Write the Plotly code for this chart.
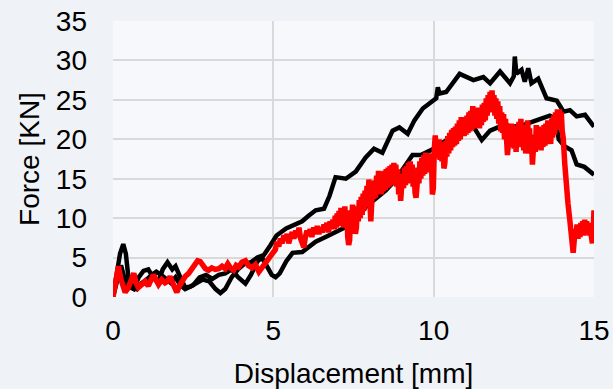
import plotly.graph_objects as go

# Force-displacement curves: two black specimens and one red specimen
black_a_x = [0.00, 0.10, 0.22, 0.32, 0.40, 0.48, 0.55, 0.65, 0.80, 0.95, 1.10, 1.25, 1.40, 1.55,
             1.70, 1.85, 1.95, 2.10, 2.25, 2.40, 2.60, 2.80, 3.00, 3.20, 3.35, 3.50, 3.70, 3.90,
             4.10, 4.30, 4.50, 4.70, 4.90, 5.10, 5.40, 5.70, 5.90, 6.10, 6.32, 6.58, 6.75, 6.94,
             7.10, 7.26, 7.57, 7.88, 8.14, 8.40, 8.72, 8.93, 9.19, 9.40, 9.66, 9.97, 10.08, 10.13,
             10.18, 10.39, 10.81, 11.24, 11.55, 11.76, 12.07, 12.38, 12.50, 12.53, 12.58, 12.74,
             12.84, 12.95, 13.05, 13.26, 13.52, 13.84, 14.05, 14.25, 14.46, 14.72, 14.93, 15.00]
black_a_y = [0.0, 2.5, 5.5, 6.7, 5.5, 2.5, 1.2, 1.0, 2.5, 3.3, 3.5, 2.5, 1.8, 3.5,
             4.4, 3.5, 3.9, 2.5, 1.2, 1.3, 1.8, 2.2, 2.0, 1.0, 0.5, 1.0, 2.5, 3.5,
             4.2, 4.4, 5.0, 5.3, 6.5, 7.8, 8.7, 9.2, 9.6, 10.3, 11.0, 11.2, 12.8, 15.2,
             15.1, 15.0, 15.9, 17.7, 18.8, 18.3, 21.1, 21.5, 20.7, 22.4, 23.9, 24.9, 25.2, 26.6,
             25.8, 26.0, 28.3, 27.5, 27.9, 27.1, 28.6, 27.1, 28.0, 30.5, 28.3, 28.8,
             27.3, 29.0, 27.1, 27.7, 25.2, 24.9, 23.5, 23.7, 22.9, 23.1, 22.0, 21.6]

black_b_x = [0.00, 0.10, 0.25, 0.35, 0.45, 0.60, 0.75, 0.90, 1.05, 1.20, 1.35, 1.50, 1.65, 1.80,
             1.95, 2.10, 2.25, 2.50, 2.70, 2.90, 3.10, 3.30, 3.50, 3.70, 3.90, 4.13, 4.30, 4.50,
             4.65, 4.80, 4.95, 5.07, 5.20, 5.40, 5.60, 5.90, 6.32, 6.63, 7.05, 7.47, 7.90, 8.20,
             8.50, 8.80, 9.08, 9.34, 9.60, 10.00, 10.40, 10.80, 11.24, 11.50, 11.76, 12.17, 12.50,
             12.79, 13.20, 13.62, 13.80, 13.90, 14.09, 14.30, 14.46, 14.70, 15.00]
black_b_y = [0.0, 1.5, 4.0, 2.5, 1.0, 1.5, 1.0, 1.8, 2.2, 2.8, 3.2, 2.8, 2.2, 1.8,
             2.5, 1.5, 1.0, 1.5, 2.5, 2.8, 2.3, 2.8, 3.0, 3.5, 2.5, 1.7, 2.8, 4.5,
             5.0, 4.0, 2.8, 2.5, 3.0, 4.5, 5.6, 5.7, 7.0, 7.6, 8.5, 9.3, 11.5, 12.5,
             13.5, 14.8, 16.5, 18.0, 18.0, 18.8, 19.9, 20.8, 21.6, 19.9, 21.1, 21.8, 21.6,
             21.8, 22.4, 23.0, 22.6, 20.0, 19.1, 18.6, 16.8, 16.5, 15.5]

# Red specimen as (displacement, force) readings
red_points = [
    (0.00, 0.0), (0.08, 2.0), (0.17, 3.9), (0.25, 2.2), (0.32, 1.0), (0.38, 0.6), (0.48, 1.2),
    (0.58, 2.4), (0.65, 3.0), (0.72, 1.8), (0.79, 1.2), (0.90, 1.6), (1.00, 2.0), (1.10, 1.4),
    (1.18, 2.2), (1.26, 2.8), (1.34, 2.2), (1.42, 1.6), (1.52, 2.2), (1.62, 1.8), (1.70, 2.0),
    (1.78, 2.6), (1.86, 1.8), (1.92, 1.0), (1.99, 0.6), (2.07, 1.4), (2.15, 2.1), (2.25, 2.6),
    (2.36, 3.0), (2.46, 3.6), (2.56, 4.2), (2.64, 4.6), (2.72, 4.5), (2.80, 4.0), (2.88, 3.6),
    (2.98, 3.4), (3.08, 3.7), (3.19, 3.5), (3.30, 3.6), (3.40, 3.9), (3.50, 3.6), (3.58, 4.2),
    (3.66, 3.7), (3.76, 3.4), (3.84, 4.0), (3.92, 3.8), (4.02, 4.4), (4.13, 4.6), (4.22, 4.0),
    (4.34, 3.7), (4.44, 4.1), (4.55, 3.2), (4.65, 3.8), (4.75, 4.3), (4.85, 4.8), (4.96, 5.5),
    (5.06, 6.0), (5.12, 7.0), (5.17, 6.4), (5.22, 7.4), (5.27, 6.8), (5.33, 7.8), (5.38, 7.2),
    (5.43, 8.0), (5.48, 6.8), (5.53, 7.6), (5.59, 8.2), (5.64, 7.4), (5.70, 8.4), (5.75, 7.6),
    (5.80, 8.8), (5.85, 7.4), (5.90, 7.0), (5.95, 6.3), (6.00, 7.6), (6.05, 8.4), (6.10, 7.8),
    (6.15, 8.6), (6.20, 7.6), (6.26, 8.8), (6.32, 8.0), (6.37, 9.0), (6.42, 8.0), (6.48, 8.8),
    (6.53, 8.2), (6.58, 9.2), (6.62, 8.4), (6.67, 9.4), (6.72, 8.2), (6.77, 9.6), (6.82, 8.6),
    (6.86, 9.8),
    (6.90, 8.6), (6.93, 10.3), (6.96, 8.8), (6.99, 10.6), (7.02, 9.0), (7.05, 10.9), (7.08, 9.0),
    (7.11, 11.3), (7.14, 9.2), (7.17, 11.2), (7.20, 8.8), (7.23, 11.5), (7.26, 9.0), (7.29, 11.0),
    (7.32, 7.6), (7.35, 6.6), (7.38, 7.2), (7.41, 10.9), (7.44, 9.2), (7.47, 11.7), (7.50, 9.4),
    (7.53, 11.3), (7.56, 8.0), (7.59, 8.8), (7.62, 11.5), (7.65, 9.6), (7.68, 12.3), (7.71, 10.0),
    (7.74, 12.7), (7.77, 10.4), (7.80, 13.1), (7.83, 11.0), (7.86, 13.5), (7.89, 11.4), (7.92, 14.1),
    (7.95, 11.8), (7.98, 14.9), (8.01, 12.2), (8.04, 9.6), (8.07, 12.0), (8.10, 14.6), (8.13, 12.4),
    (8.16, 14.8), (8.19, 12.6), (8.22, 15.4), (8.25, 13.0), (8.28, 16.0), (8.31, 13.4), (8.34, 15.6),
    (8.37, 13.0), (8.40, 15.8), (8.43, 13.4), (8.46, 16.0), (8.49, 13.6), (8.52, 16.2), (8.55, 13.8),
    (8.58, 16.4), (8.61, 14.0), (8.64, 16.6), (8.67, 14.2), (8.70, 16.8), (8.73, 14.4), (8.76, 17.0),
    (8.79, 14.4), (8.82, 16.8), (8.85, 14.0), (8.88, 16.2), (8.91, 13.0), (8.94, 14.8), (8.97, 12.2),
    (9.00, 13.4), (9.03, 15.6), (9.06, 13.8), (9.09, 16.4), (9.12, 14.2), (9.15, 16.6), (9.18, 14.4),
    (9.21, 17.0), (9.24, 14.6), (9.27, 17.2), (9.30, 14.6), (9.33, 16.8), (9.36, 14.0), (9.39, 16.2),
    (9.42, 13.2), (9.45, 12.6), (9.48, 14.0), (9.51, 16.4), (9.54, 14.4), (9.57, 17.2), (9.60, 15.0),
    (9.63, 17.6), (9.66, 15.4), (9.69, 18.0), (9.72, 15.6), (9.75, 18.3), (9.78, 15.8), (9.81, 18.0),
    (9.84, 16.0), (9.87, 18.2), (9.90, 15.8), (9.93, 17.4), (9.96, 13.0), (9.99, 13.8), (10.02, 18.8),
    (10.05, 20.5), (10.08, 18.0), (10.11, 20.0), (10.14, 17.6), (10.17, 20.0), (10.20, 17.4),
    (10.23, 19.6), (10.26, 17.2), (10.29, 19.4), (10.32, 16.3), (10.35, 17.0), (10.38, 19.8),
    (10.41, 17.8), (10.44, 20.4), (10.47, 18.2), (10.50, 20.8), (10.53, 18.6), (10.56, 21.2),
    (10.59, 19.0), (10.62, 21.4), (10.65, 19.2), (10.68, 21.6), (10.71, 19.4), (10.74, 22.0),
    (10.77, 19.8), (10.80, 22.4), (10.83, 20.0), (10.86, 22.8), (10.89, 20.4), (10.92, 22.6),
    (10.95, 20.4), (10.98, 22.8), (11.01, 20.6), (11.04, 23.0), (11.07, 20.8), (11.10, 23.4),
    (11.13, 21.0), (11.16, 23.6), (11.19, 21.2), (11.22, 24.2), (11.25, 21.6), (11.28, 23.8),
    (11.31, 21.4), (11.34, 24.0), (11.37, 21.6), (11.40, 23.6), (11.43, 21.4), (11.46, 24.0),
    (11.49, 21.8), (11.52, 24.4), (11.55, 22.2), (11.58, 24.6), (11.61, 22.4), (11.64, 25.2),
    (11.67, 23.0), (11.70, 25.6), (11.73, 23.4), (11.76, 26.0), (11.79, 24.0), (11.82, 26.2),
    (11.85, 23.8), (11.88, 25.6), (11.91, 23.0), (11.94, 25.2), (11.97, 22.6), (12.00, 24.8),
    (12.03, 22.0), (12.06, 24.2), (12.09, 21.0), (12.12, 23.4), (12.15, 20.8), (12.18, 23.2),
    (12.21, 20.0), (12.24, 22.6), (12.27, 19.0), (12.30, 18.0), (12.33, 19.4), (12.36, 21.6),
    (12.39, 19.2), (12.42, 22.0), (12.45, 19.0), (12.48, 21.6), (12.51, 18.8), (12.54, 21.4),
    (12.57, 18.4), (12.60, 21.8), (12.63, 19.2), (12.66, 22.2), (12.69, 19.4), (12.72, 22.6),
    (12.75, 19.0), (12.78, 21.8), (12.81, 18.6), (12.84, 21.4), (12.87, 18.2), (12.90, 21.0),
    (12.93, 22.4), (12.96, 19.6), (12.99, 21.4), (13.02, 18.2), (13.05, 19.8), (13.08, 16.8),
    (13.11, 18.0), (13.14, 20.6), (13.17, 18.4), (13.20, 21.8), (13.23, 19.0), (13.26, 21.6),
    (13.29, 18.8), (13.32, 21.2), (13.35, 18.6), (13.38, 21.4), (13.41, 19.0), (13.44, 21.8),
    (13.47, 19.2), (13.50, 22.0), (13.53, 19.4), (13.56, 22.4), (13.59, 19.8), (13.62, 22.0),
    (13.65, 19.4), (13.68, 22.6), (13.71, 20.2), (13.74, 23.0), (13.77, 20.6), (13.80, 23.4),
    (13.83, 21.2), (13.86, 23.8), (13.89, 21.8), (13.92, 23.8), (13.95, 22.0), (13.98, 23.4),
    (14.01, 21.0), (14.04, 20.2), (14.09, 16.8), (14.14, 13.5), (14.19, 11.8), (14.25, 9.6),
    (14.30, 7.4), (14.35, 5.6), (14.38, 7.0), (14.41, 8.6), (14.44, 7.6), (14.47, 9.2),
    (14.50, 7.4), (14.53, 8.8), (14.56, 7.6), (14.59, 9.4), (14.62, 8.0), (14.65, 9.6),
    (14.68, 7.8), (14.71, 9.8), (14.74, 8.4), (14.77, 9.6), (14.80, 8.0), (14.83, 9.4),
    (14.86, 7.8), (14.89, 9.4), (14.92, 7.6), (14.95, 6.8), (14.98, 9.0), (15.00, 11.0),
]
red_x = [p[0] for p in red_points]
red_y = [p[1] for p in red_points]

x_ticks = [0, 5, 10, 15]
y_ticks = [0, 5, 10, 15, 20, 25, 30, 35]

font_family = "Liberation Sans, Arial, sans-serif"

fig = go.Figure()
fig.add_trace(go.Scatter(x=black_a_x, y=black_a_y, mode="lines",
                         line=dict(color="#000000", width=4.5), showlegend=False))
fig.add_trace(go.Scatter(x=black_b_x, y=black_b_y, mode="lines",
                         line=dict(color="#000000", width=4.5), showlegend=False))
fig.add_trace(go.Scatter(x=red_x, y=red_y, mode="lines",
                         line=dict(color="#ff0000", width=5.5), showlegend=False))

fig.update_layout(
    width=613, height=389,
    margin=dict(l=113, r=19, t=21, b=92),
    paper_bgcolor="#eff3f7",
    plot_bgcolor="#f6f8fb",
    font=dict(family=font_family, size=28, color="#000000"),
)
fig.update_xaxes(
    range=[0, 15], tickvals=x_ticks, showgrid=True, gridcolor="#d9d9d9", gridwidth=1.5,
    zeroline=False, showline=False, ticks="", ticklabelstandoff=14, automargin=False,
    title=dict(text="Displacement [mm]", standoff=18, font=dict(size=28)),
)
fig.update_yaxes(
    range=[0, 35], tickvals=y_ticks, showgrid=True, gridcolor="#d9d9d9", gridwidth=1.5,
    zeroline=False, showline=False, ticks="", ticklabelstandoff=25, automargin=False,
    title=dict(text="Force [KN]", standoff=8, font=dict(size=28)),
)

fig.write_html("out.html")
